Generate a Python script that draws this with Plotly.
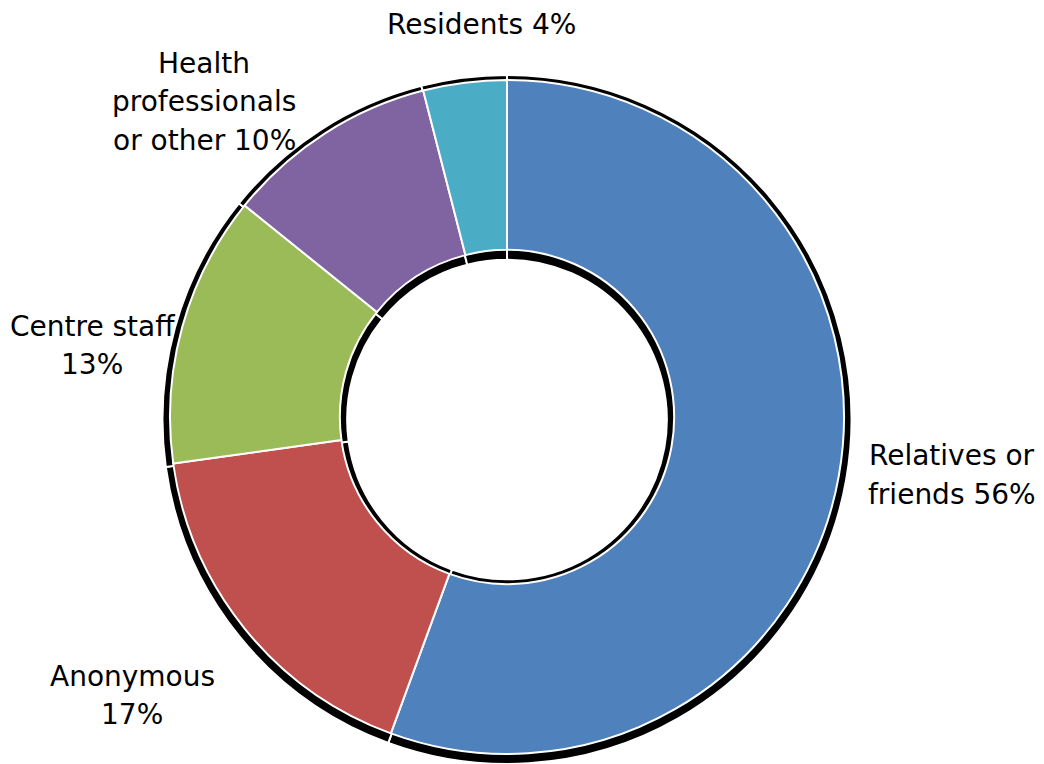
import plotly.graph_objects as go

labels = ["Relatives or friends", "Anonymous", "Centre staff", "Health professionals or other", "Residents"]
values = [55.6, 17.2, 13.0, 10.2, 4.0]
colors = ["#4F81BD", "#C0504D", "#9BBB59", "#8064A2", "#4BACC6"]
label_lines = [
    ["Relatives or", "friends {p}"],
    ["Anonymous", "{p}"],
    ["Centre staff", "{p}"],
    ["Health", "professionals", "or other {p}"],
    ["Residents {p}"],
]

W, H = 1044, 764
# label anchor (pixel center x, first-line center y)
label_pos = [(952, 455.5), (132, 676), (92, 326), (204, 63.5), (481, 24)]
LINE_GAP = 38.5

fig = go.Figure()

# shadow ring
fig.add_trace(go.Pie(
    labels=labels, values=values, sort=False, direction="clockwise", rotation=0,
    hole=0.464, textinfo="none", hoverinfo="skip", showlegend=False,
    marker=dict(colors=["#000000"] * len(values), line=dict(color="white", width=2)),
    domain=dict(x=[162.5 / W, 851.5 / W], y=[0, 1 - 75 / H]),
))

# main donut
fig.add_trace(go.Pie(
    labels=labels, values=values, sort=False, direction="clockwise", rotation=0,
    hole=0.496, textinfo="none", showlegend=False,
    marker=dict(colors=colors, line=dict(color="white", width=2)),
    domain=dict(x=[170 / W, 844 / W], y=[1 - 754 / H, 1 - 80 / H]),
))

annotations = []
for lines, v, (px, py) in zip(label_lines, values, label_pos):
    pct = f"{round(v)}%"
    for i, t in enumerate(lines):
        annotations.append(dict(
            text=t.format(p=pct), x=px / W, y=1 - (py + i * LINE_GAP) / H,
            xref="paper", yref="paper", xanchor="center", yanchor="middle",
            showarrow=False, font=dict(family="DejaVu Sans", size=28, color="black"),
        ))

fig.update_layout(
    width=W, height=H, margin=dict(l=0, r=0, t=0, b=0),
    paper_bgcolor="white", plot_bgcolor="white",
    annotations=annotations,
)

fig.write_html("out.html")
